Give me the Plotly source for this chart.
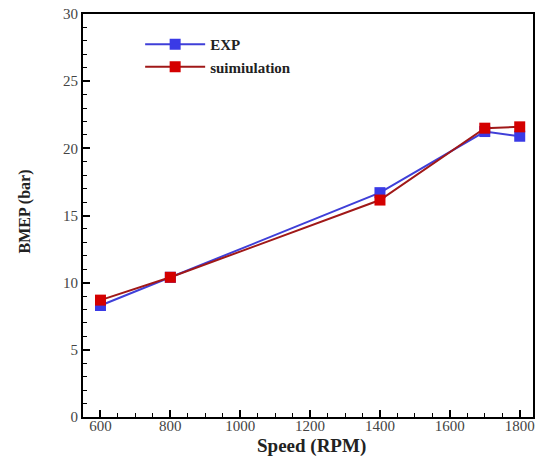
import plotly.graph_objects as go

# Engine speed (RPM) and brake mean effective pressure (bar)
speed = [600, 800, 1400, 1700, 1800]
bmep_exp = [8.3, 10.4, 16.7, 21.25, 20.9]
bmep_sim = [8.7, 10.4, 16.15, 21.5, 21.6]

x_ticks = [600, 800, 1000, 1200, 1400, 1600, 1800]
y_ticks = [0, 5, 10, 15, 20, 25, 30]

serif = "Liberation Serif, Times New Roman, serif"

fig = go.Figure()
fig.add_trace(go.Scatter(
    x=speed, y=bmep_exp, name="EXP", mode="lines+markers",
    line=dict(color="#3f3fd8", width=2),
    marker=dict(symbol="square", size=11, color="#3a3ae6",
                line=dict(color="#3a3ae6", width=0)),
))
fig.add_trace(go.Scatter(
    x=speed, y=bmep_sim, name="suimiulation", mode="lines+markers",
    line=dict(color="#a01818", width=2),
    marker=dict(symbol="square", size=11, color="#d40000",
                line=dict(color="#d40000", width=0)),
))

axis_common = dict(
    showline=True, linecolor="black", linewidth=2, mirror=True,
    ticks="inside", ticklen=7, tickwidth=2, tickcolor="black",
    showgrid=False, zeroline=False, automargin=False,
    tickfont=dict(family=serif, size=15, color="#444444"),
)

fig.update_xaxes(
    range=[550, 1838], tickvals=x_ticks, ticklabelstandoff=-6,
    minor=dict(ticks="inside", ticklen=4, tickwidth=1, tickcolor="black", dtick=50, tick0=600, showgrid=False),
    **axis_common,
)
fig.update_yaxes(
    range=[0, 30], tickvals=y_ticks,
    minor=dict(ticks="inside", ticklen=4, tickwidth=1, tickcolor="black", dtick=1, showgrid=False),
    **axis_common,
)

# Axis titles placed as annotations relative to the plot area
fig.add_annotation(
    text="<b>Speed (RPM)</b>", xref="paper", yref="paper", x=0.507, y=0,
    xanchor="center", yanchor="middle", yshift=-29, showarrow=False,
    font=dict(family=serif, size=19, color="#222222"),
)
fig.add_annotation(
    text="<b>BMEP (bar)</b>", xref="paper", yref="paper", x=0, y=0.51,
    xanchor="center", yanchor="middle", xshift=-58, textangle=-90, showarrow=False,
    font=dict(family=serif, size=16, color="#222222"),
)

fig.update_layout(
    width=542, height=456,
    margin=dict(l=83, r=9, t=14, b=39),
    plot_bgcolor="white", paper_bgcolor="white",
    showlegend=True,
    legend=dict(
        x=0.127, y=0.965, xanchor="left", yanchor="top",
        bgcolor="rgba(0,0,0,0)", borderwidth=0,
        font=dict(family=serif, size=15, color="#222222", weight="bold"),
        itemwidth=60, tracegroupgap=0,
    ),
)

fig.write_html("out.html")
